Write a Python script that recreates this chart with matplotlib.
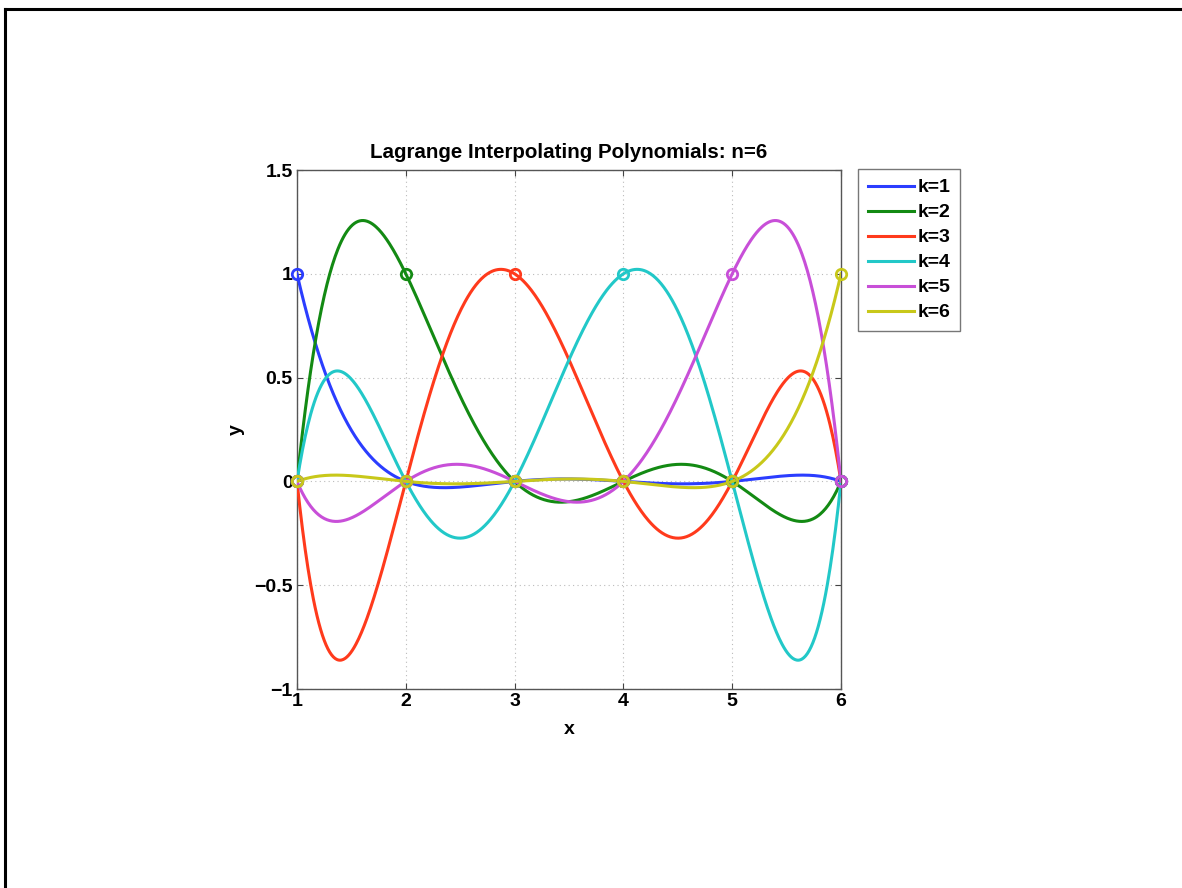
import numpy as np
import matplotlib
matplotlib.use("Agg")
import matplotlib.pyplot as plt
from matplotlib.lines import Line2D

# ---- data ----
nodes = [1, 2, 3, 4, 5, 6]                 # interpolation nodes x_j
labels = ["k=1", "k=2", "k=3", "k=4", "k=5", "k=6"]
colors = ["#2b3dff", "#138a13", "#ff3a1c", "#22c8c8", "#c84fd8", "#c8c81a"]
xticks = [1, 2, 3, 4, 5, 6]
yticks = [-1, -0.5, 0, 0.5, 1, 1.5]
yticklabels = ["\u22121", "\u22120.5", "0", "0.5", "1", "1.5"]

plt.rcParams['font.family'] = ['Liberation Sans', 'DejaVu Sans']
plt.rcParams['font.weight'] = 'bold'

fig = plt.figure(figsize=(11.82, 8.88), dpi=100)
ax = fig.add_axes([297/1182, 1-689/888, (841-297)/1182, (689-170)/888])

xn = np.array(nodes, dtype=float)
xx = np.linspace(xn[0], xn[-1], 600)

def lagrange_basis(k, x):
    out = np.ones_like(np.asarray(x, dtype=float))
    for j, xj in enumerate(xn):
        if j != k:
            out = out * (x - xj) / (xn[k] - xj)
    return out

handles = []
for k in range(len(nodes)):
    h, = ax.plot(xx, lagrange_basis(k, xx), color=colors[k], lw=2.2, label=labels[k], zorder=3)
    ax.plot(xn, lagrange_basis(k, xn), 'o', color=colors[k], mfc='none', ms=7.5, mew=2,
            clip_on=False, zorder=4)
    handles.append(h)

ax.set_xlim(1, 6)
ax.set_ylim(-1, 1.5)
ax.set_xticks(xticks)
ax.set_yticks(yticks)
ax.set_yticklabels(yticklabels)
ax.tick_params(direction='in', length=4, width=0.8, labelsize=14, top=True, right=True, pad=3, color='#444444')
for lab in ax.get_xticklabels() + ax.get_yticklabels():
    lab.set_fontweight('bold')
ax.grid(True, linestyle=(0, (1, 3)), color='#bbbbbb', lw=0.8)
for s in ax.spines.values():
    s.set_color('#555555')
    s.set_linewidth(1.0)

ax.set_title("Lagrange Interpolating Polynomials: n=6", fontsize=14.8, fontweight='bold', pad=9)
ax.set_xlabel("x", fontsize=14, fontweight='bold', labelpad=8)
ax.set_ylabel("y", fontsize=14, fontweight='bold')
ax.yaxis.set_label_coords(-0.095, 0.5)

leg = ax.legend(handles=handles, loc='upper left', bbox_to_anchor=(858/1182, 1-169/888),
                bbox_transform=fig.transFigure, prop={'weight': 'bold', 'size': 14},
                frameon=True, fancybox=False, edgecolor='#555555', handlelength=2.4,
                handletextpad=0.15, labelspacing=0.38, borderpad=0.5, borderaxespad=0)
leg.get_frame().set_linewidth(1.0)

# outer frame (top and left edges)
fig.add_artist(Line2D([5/1182, 1], [1-9/888, 1-9/888], transform=fig.transFigure, color='black', lw=2.2))
fig.add_artist(Line2D([5/1182, 5/1182], [0, 1-9/888], transform=fig.transFigure, color='black', lw=2.2))

fig.savefig("out.png", dpi=100)
